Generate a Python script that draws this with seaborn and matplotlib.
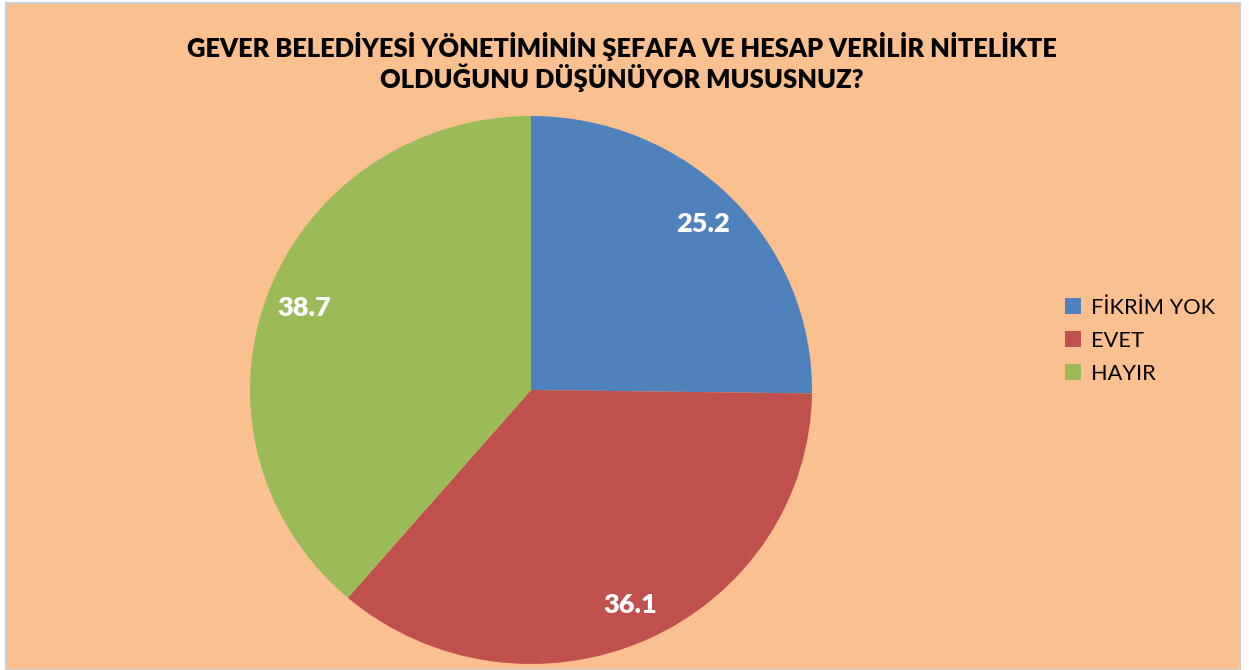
import matplotlib
matplotlib.use("Agg")
import matplotlib.pyplot as plt
from matplotlib.patches import Rectangle, Patch
import seaborn as sns

categories = ["FİKRİM YOK", "EVET", "HAYIR"]
values = [25.2, 36.1, 38.7]
title = "GEVER BELEDİYESİ YÖNETİMİNİN ŞEFAFA VE HESAP VERİLİR NİTELİKTE\nOLDUĞUNU DÜŞÜNÜYOR MUSUSNUZ?"

sns.set_style("white")
plt.rcParams["font.family"] = ["Lato", "DejaVu Sans"]
plt.rcParams["text.color"] = "black"
colors = sns.color_palette(["#4F81BD", "#C0504D", "#9BBB59"])
bg = "#FAC090"

W, H = 1249, 670
fig = plt.figure(figsize=(W / 100, H / 100), dpi=100, facecolor="white")
fig.patches.append(Rectangle((6 / W, 0), (1240 - 6) / W, (H - 3) / H,
                             transform=fig.transFigure, facecolor=bg,
                             edgecolor="#D0D0D0", linewidth=1.5, zorder=-10))

ax = fig.add_axes([250 / W, 6 / H, 562 / W, 548 / H])
ax.set_facecolor("none")
wedges, texts, autotexts = ax.pie(
    values, colors=colors, startangle=90, counterclock=False,
    autopct=lambda p: f"{p:.1f}", pctdistance=0.86,
    wedgeprops=dict(linewidth=0))
for t in autotexts:
    t.set_color("white")
    t.set_fontsize(19.5)
    t.set_fontweight("heavy")
ax.set_aspect("auto")
ax.set_xlim(-1, 1)
ax.set_ylim(-1, 1)

fig.text(622 / W, 1 - 62 / H, title, ha="center", va="center",
         fontsize=18.4, fontweight="heavy", color="black", linespacing=1.1)

handles = [Patch(facecolor=c, edgecolor="none") for c in colors]
leg = fig.legend(handles, categories, loc="center left",
                 bbox_to_anchor=(1054 / W, 1 - 341 / H), frameon=False,
                 fontsize=15.7, handlelength=0.75, handleheight=0.75,
                 handletextpad=0.45, labelspacing=0.6, borderpad=0)
for t in leg.get_texts():
    t.set_color("black")

fig.savefig("out.png", dpi=100, facecolor="white")
